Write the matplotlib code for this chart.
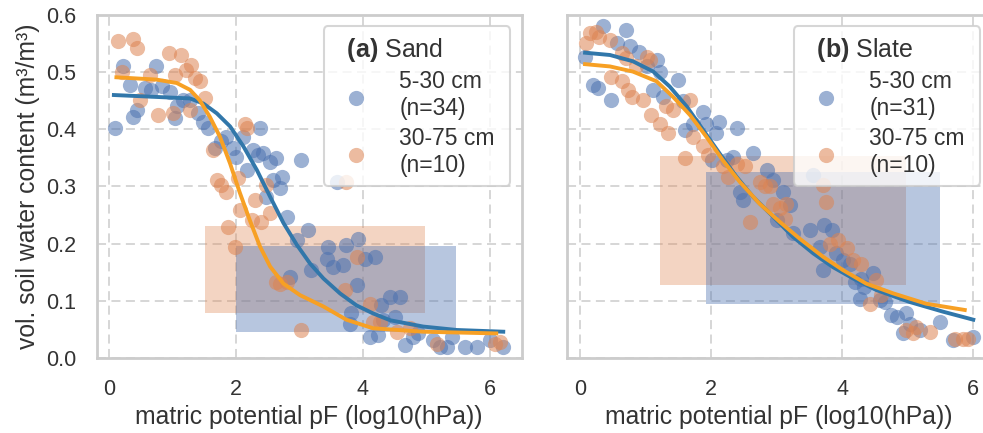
import matplotlib
matplotlib.use('Agg')
import matplotlib.pyplot as plt
from matplotlib.patches import Rectangle

plt.rcParams['font.family'] = ['Liberation Sans', 'DejaVu Sans']
plt.rcParams['mathtext.fontset'] = 'custom'
plt.rcParams['mathtext.bf'] = 'Liberation Sans:bold'
plt.rcParams['mathtext.rm'] = 'Liberation Sans'
plt.rcParams['text.color'] = '#333333'
plt.rcParams['axes.labelcolor'] = '#333333'
plt.rcParams['xtick.color'] = '#333333'
plt.rcParams['ytick.color'] = '#333333'

# ---- data ----
# (a) Sand
sand_top_x = [0.09, 0.23, 0.33, 0.38, 0.44, 0.57, 0.67, 0.75, 0.83, 0.96, 1.04, 1.07, 1.17, 1.28,
              1.41, 1.49, 1.56, 1.67, 1.77, 1.85, 1.96, 2.01, 2.12, 2.17, 2.27, 2.35, 2.38, 2.43,
              2.54, 2.64, 2.48, 2.59, 2.72, 2.69, 2.80, 2.96, 3.03, 3.14, 3.19, 2.85, 3.45, 3.43,
              3.53, 3.69, 3.74, 3.93, 4.03, 4.19, 3.90, 3.82, 3.80, 4.11, 4.24, 4.32, 4.43, 4.58,
              4.50, 4.66, 4.79, 4.87, 5.11, 5.21, 5.32, 5.40, 5.61, 5.79, 6.00, 6.21, 4.29, 3.59]
sand_top_y = [0.403, 0.510, 0.478, 0.422, 0.434, 0.472, 0.469, 0.510, 0.475, 0.466, 0.419, 0.440,
              0.451, 0.451, 0.428, 0.413, 0.402, 0.367, 0.379, 0.387, 0.367, 0.352, 0.387, 0.329,
              0.364, 0.355, 0.402, 0.358, 0.343, 0.349, 0.282, 0.311, 0.317, 0.297, 0.247, 0.206,
              0.346, 0.224, 0.154, 0.142, 0.195, 0.174, 0.160, 0.162, 0.198, 0.209, 0.174, 0.177,
              0.127, 0.078, 0.060, 0.037, 0.040, 0.066, 0.107, 0.107, 0.072, 0.022, 0.037, 0.043,
              0.031, 0.020, 0.020, 0.037, 0.020, 0.020, 0.031, 0.020, 0.092, 0.308]
sand_sub_x = [0.15, 0.38, 0.45, 0.94, 1.14, 1.30, 1.04, 1.22, 1.35, 1.43, 1.51, 0.20, 0.65, 0.49,
              0.78, 1.01, 1.28, 2.14, 2.17, 1.64, 1.70, 1.77, 1.85, 2.04, 2.30, 2.06, 2.25, 2.40,
              2.54, 2.48, 1.88, 1.98, 2.64, 2.69, 2.80, 3.03, 3.90, 3.72, 4.11, 4.16, 4.27, 4.53,
              4.74, 5.16, 6.08, 6.16, 3.74]
sand_sub_y = [0.554, 0.558, 0.543, 0.533, 0.530, 0.513, 0.495, 0.504, 0.489, 0.484, 0.454, 0.501,
              0.495, 0.451, 0.425, 0.428, 0.434, 0.409, 0.402, 0.364, 0.311, 0.303, 0.291, 0.314,
              0.276, 0.259, 0.241, 0.238, 0.253, 0.303, 0.230, 0.195, 0.133, 0.130, 0.133, 0.049,
              0.177, 0.119, 0.095, 0.063, 0.063, 0.046, 0.052, 0.025, 0.025, 0.028, 0.308]
sand_top_fit_x = [0.08, 1.28, 1.49, 1.70, 1.91, 2.12, 2.33, 2.54, 2.75, 2.96, 3.17, 3.38, 3.64,
                  3.90, 4.16, 4.43, 4.95, 5.48, 6.21]
sand_top_fit_y = [0.460, 0.454, 0.445, 0.428, 0.405, 0.370, 0.329, 0.282, 0.236, 0.198, 0.165,
                  0.139, 0.113, 0.092, 0.078, 0.066, 0.055, 0.049, 0.046]
sand_sub_fit_x = [0.12, 0.75, 1.07, 1.28, 1.43, 1.59, 1.75, 1.91, 2.06, 2.22, 2.38, 2.54, 2.75,
                  3.01, 3.38, 3.74, 4.16, 4.95, 6.10]
sand_sub_fit_y = [0.491, 0.487, 0.481, 0.469, 0.451, 0.422, 0.387, 0.340, 0.290, 0.241, 0.195,
                  0.160, 0.130, 0.110, 0.090, 0.067, 0.052, 0.046, 0.043]
sand_top_box = [2.01, 5.47, 0.045, 0.196]   # x0, x1, y0, y1
sand_sub_box = [1.51, 4.98, 0.078, 0.231]

# (b) Slate
slate_top_x = [0.08, 0.36, 0.71, 0.20, 0.28, 0.48, 0.56, 0.76, 0.91, 1.02, 1.17, 1.22, 1.12, 1.27,
               1.50, 1.58, 1.60, 1.73, 1.88, 1.93, 2.13, 2.08, 2.39, 2.01, 2.24, 2.34, 2.64, 2.44,
               2.49, 2.85, 2.95, 3.10, 3.20, 3.00, 3.25, 3.51, 3.73, 3.84, 3.66, 3.71, 3.91, 4.01,
               4.12, 4.19, 4.29, 4.34, 4.47, 4.27, 4.57, 4.65, 4.75, 4.83, 4.98, 5.03, 4.93, 5.18,
               5.49, 5.69, 6.00, 3.56]
slate_top_y = [0.527, 0.580, 0.574, 0.478, 0.472, 0.451, 0.551, 0.545, 0.536, 0.510, 0.521, 0.501,
               0.469, 0.457, 0.486, 0.449, 0.399, 0.410, 0.431, 0.410, 0.413, 0.393, 0.402, 0.346,
               0.346, 0.352, 0.358, 0.291, 0.276, 0.329, 0.311, 0.291, 0.268, 0.241, 0.218, 0.224,
               0.233, 0.224, 0.195, 0.154, 0.183, 0.171, 0.165, 0.133, 0.139, 0.125, 0.148, 0.104,
               0.101, 0.098, 0.075, 0.072, 0.078, 0.060, 0.043, 0.049, 0.063, 0.031, 0.037, 0.320]
slate_sub_x = [0.10, 0.15, 0.25, 0.30, 0.46, 0.64, 0.71, 0.86, 1.02, 1.07, 0.48, 0.64, 0.74, 0.79,
               0.97, 1.09, 1.22, 1.35, 1.32, 1.42, 1.68, 1.73, 1.88, 1.96, 1.60, 2.18, 2.26, 2.39,
               2.52, 2.74, 2.82, 2.90, 2.95, 3.05, 3.15, 2.59, 3.13, 3.71, 3.76, 3.81, 3.94, 4.07,
               4.17, 4.29, 4.52, 4.60, 4.42, 4.98, 5.13, 5.34, 5.08, 5.72, 5.84, 5.92]
slate_sub_y = [0.551, 0.568, 0.571, 0.562, 0.557, 0.533, 0.524, 0.510, 0.527, 0.521, 0.492, 0.484,
               0.469, 0.457, 0.451, 0.425, 0.410, 0.393, 0.440, 0.434, 0.451, 0.387, 0.370, 0.355,
               0.349, 0.335, 0.317, 0.340, 0.335, 0.308, 0.300, 0.300, 0.270, 0.262, 0.270, 0.238,
               0.244, 0.303, 0.273, 0.200, 0.206, 0.192, 0.171, 0.165, 0.136, 0.110, 0.095, 0.049,
               0.055, 0.046, 0.043, 0.034, 0.034, 0.034]
slate_top_fit_x = [0.08, 0.46, 0.81, 1.12, 1.37, 1.63, 1.88, 2.13, 2.39, 2.64, 2.95, 3.25, 3.56,
                   3.86, 4.17, 4.52, 5.03, 5.54, 6.00]
slate_top_fit_y = [0.534, 0.530, 0.519, 0.501, 0.475, 0.440, 0.399, 0.358, 0.317, 0.282, 0.247,
                   0.212, 0.183, 0.159, 0.139, 0.119, 0.098, 0.081, 0.067]
slate_sub_fit_x = [0.08, 0.46, 0.81, 1.17, 1.42, 1.68, 1.93, 2.18, 2.44, 2.74, 3.05, 3.35, 3.71,
                   4.01, 4.37, 4.78, 5.28, 5.87]
slate_sub_fit_y = [0.514, 0.510, 0.501, 0.484, 0.457, 0.425, 0.387, 0.346, 0.308, 0.270, 0.238,
                   0.209, 0.177, 0.154, 0.130, 0.113, 0.095, 0.084]
slate_top_box = [1.92, 5.49, 0.094, 0.325]
slate_sub_box = [1.22, 4.98, 0.128, 0.353]

panels = [
    ('a', 'Sand', 34, 10, sand_top_x, sand_top_y, sand_sub_x, sand_sub_y,
     sand_top_fit_x, sand_top_fit_y, sand_sub_fit_x, sand_sub_fit_y, sand_top_box, sand_sub_box),
    ('b', 'Slate', 31, 10, slate_top_x, slate_top_y, slate_sub_x, slate_sub_y,
     slate_top_fit_x, slate_top_fit_y, slate_sub_fit_x, slate_sub_fit_y, slate_top_box, slate_sub_box),
]

c_top = '#4c72b0'
c_sub = '#dd8452'
c_top_line = '#3177aa'
c_sub_line = '#f7a024'

fig = plt.figure(figsize=(9.83, 4.33), dpi=100)
ax1 = fig.add_axes([0.0984, 0.1732, 0.4323, 0.7922])
ax2 = fig.add_axes([0.5765, 0.1732, 0.4323, 0.7922], sharey=ax1)
xlims = [(-0.19, 6.5), (-0.2, 6.28)]

for ax, p, xl in zip([ax1, ax2], panels, xlims):
    (lab, soil, n1, n2, tx, ty, sx, sy, tfx, tfy, sfx, sfy, tbox, sbox) = p
    ax.add_patch(Rectangle((sbox[0], sbox[2]), sbox[1] - sbox[0], sbox[3] - sbox[2],
                           color=c_sub, alpha=0.35, lw=0, zorder=1))
    ax.add_patch(Rectangle((tbox[0], tbox[2]), tbox[1] - tbox[0], tbox[3] - tbox[2],
                           color=c_top, alpha=0.4, lw=0, zorder=1))
    ax.scatter(tx, ty, s=120, color=c_top, alpha=0.55, lw=0, zorder=2,
               label='5-30 cm \n(n=%d)' % n1)
    ax.scatter(sx, sy, s=120, color=c_sub, alpha=0.55, lw=0, zorder=2,
               label='30-75 cm \n(n=%d)' % n2)
    ax.plot(tfx, tfy, color=c_top_line, lw=2.8, zorder=3)
    ax.plot(sfx, sfy, color=c_sub_line, lw=2.8, zorder=3)

    ax.set_xlim(*xl)
    ax.set_ylim(0, 0.6)
    ax.set_xticks([0, 2, 4, 6])
    ax.set_yticks([0.0, 0.1, 0.2, 0.3, 0.4, 0.5, 0.6])
    ax.yaxis.set_major_formatter(matplotlib.ticker.FormatStrFormatter('%.1f'))
    ax.grid(True, color='#d3d3d3', ls=(0, (5, 3)), lw=1.3)
    ax.set_axisbelow(True)
    for sp in ax.spines.values():
        sp.set_color('#cccccc')
        sp.set_linewidth(2)
    ax.tick_params(length=0, labelsize=15.5, pad=15)
    ax.set_xlabel('matric potential pF (log10(hPa))', fontsize=17.8, labelpad=4)
    leg = ax.legend(title=r'  $\mathbf{(%s)}$ %s' % (lab, soil), loc='upper right',
                    fontsize=16.5, title_fontsize=18, framealpha=0.8, edgecolor='#cccccc',
                    labelspacing=0.3, borderpad=0.4, alignment='left', handletextpad=0.9)
    leg.get_frame().set_linewidth(1.5)
    leg.set_zorder(5)

ax1.set_ylabel('vol. soil water content (m³/m³)', fontsize=17.8, labelpad=4)
plt.setp(ax2.get_yticklabels(), visible=False)

fig.savefig('out.png', dpi=100)
